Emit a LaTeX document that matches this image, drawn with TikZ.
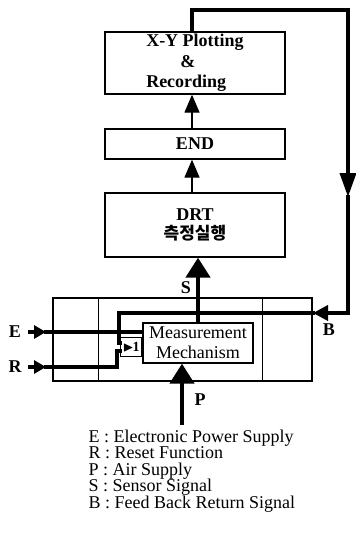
\documentclass[tikz,border=0pt]{standalone}
\usepackage{amssymb}
\usepackage{fontspec}
\setmainfont{Liberation Serif}
\newfontfamily\korfont{Noto Sans CJK KR}
\usetikzlibrary{arrows.meta}

\begin{document}
\begin{tikzpicture}[x=1pt, y=-1pt, node distance=81pt,
    box/.style={draw, line width=1.3pt, minimum width=180pt, inner sep=1pt,
                font=\fontsize{18}{20.5}\selectfont\bfseries},
    flow/.style={line width=1.3pt, -{Triangle[length=18pt,width=15pt]}},
    big/.style={line width=4.5pt, -{Triangle[length=20pt,width=24pt]}},
    fb/.style={line width=3.5pt, line cap=rect},
    lbl/.style={font=\fontsize{18}{18}\selectfont\bfseries}]
  \useasboundingbox (0,0) rectangle (356,542);
  % DRT measuring flow
  \node[box, minimum height=62pt, align=left] (xy) at (195,63)
        {X-Y Plotting\\\hspace*{34pt}\&\\Recording};
  \node[box, minimum height=30pt, below of=xy] (end) {END};
  \node[box, minimum height=64pt, align=center, below of=end]
        (drt) {DRT\\[-2pt]{\korfont\bfseries\fontsize{17}{20}\selectfont 측정실행}};
  \draw[flow] ([xshift=-3pt]drt.north) -- ([xshift=-3pt]end.south);
  \draw[flow] ([xshift=-3pt]end.north) -- ([xshift=-3pt]xy.south);

  % measuring device
  \node[draw, line width=1.2pt, minimum width=259pt, minimum height=83pt]
        (dev) at (182.5,339.5) {};
  \draw[line width=1.2pt] ([xshift=46pt]dev.north west) -- ([xshift=46pt]dev.south west);
  \draw[line width=1.2pt] ([xshift=-50pt]dev.north east) -- ([xshift=-50pt]dev.south east);
  \node[draw, fill=white, line width=1.3pt, minimum width=110pt, minimum height=40pt,
        inner sep=0pt, align=center, font=\fontsize{18}{20}\selectfont]
        (meas) at (198,343) {Measurement\\Mechanism};
  \node[draw, line width=1.3pt, minimum width=21pt, minimum height=19pt, inner sep=0pt,
        anchor=east, font=\fontsize{14}{14}\selectfont\bfseries]
        (gate) at ([yshift=-4pt]meas.west) {$\blacktriangleright$\kern-1pt1};

  \node[lbl] (E) at (15,332) {E};
  \node[lbl] (R) at (15,367) {R};
  \node[lbl] (S) at (186,288) {S};
  \node[lbl] (P) at (200,400) {P};
  \node[lbl] (B) at (329,330) {B};

  \coordinate (Ein) at (30,332);
  \coordinate (Rin) at (30,367);
  \draw[fb, -{Triangle[length=12pt,width=13pt]}] (Ein) -- ++(16,0) coordinate (Etip);
  \draw[fb] (Etip) -- (Etip -| meas.west);
  \draw[fb, -{Triangle[length=12pt,width=13pt]}] (Rin) -- ++(16,0) coordinate (Rtip);
  \draw[fb] (Rtip) -| ([xshift=-3pt,yshift=-4pt]gate.west) -- ([yshift=-4pt]gate.west);

  \draw[big] (meas.north) -- (meas.north |- drt.south);
  \coordinate (Pin) at (182,425);
  \draw[big] (Pin) -- (Pin |- meas.south);

  % feedback return
  \coordinate (fbTR) at (348,10);
  \coordinate (fbDn) at (348,197);
  \coordinate (fbB) at (313,313);
  \coordinate (fbL) at (119,313);
  \draw[fb] ([xshift=-3pt]xy.north) |- (fbTR);
  \draw[fb, -{Triangle[length=24pt,width=16pt]}] (fbTR) -- (fbDn);
  \draw[fb, -{Triangle[length=15pt,width=15pt]}] (fbDn) |- (fbB);
  \draw[fb] (fbB) -- (fbL) |- ([yshift=4pt]gate.west);

  \node[anchor=north west, align=left, font=\fontsize{18}{16.5}\selectfont]
        (legend) at (85,426)
        {E : Electronic Power Supply\\R : Reset Function\\P : Air Supply\\S : Sensor Signal\\B : Feed Back Return Signal};
\end{tikzpicture}
\end{document}
